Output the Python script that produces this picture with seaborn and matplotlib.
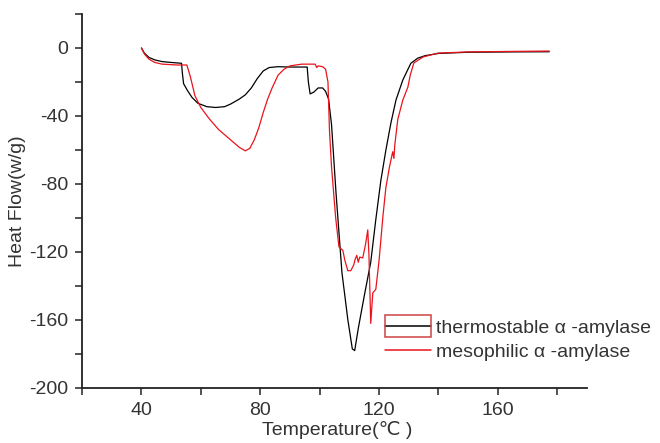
import matplotlib
matplotlib.use("Agg")
import matplotlib.pyplot as plt
from matplotlib.legend_handler import HandlerLine2D
from matplotlib.lines import Line2D
from matplotlib.patches import Rectangle
from matplotlib.ticker import MultipleLocator
import seaborn as sns

# DSC curves
thermo_temp = [40, 41, 42.5, 44.5, 47, 50, 53.5, 53.8, 54.2, 55.5, 57, 59, 62, 65,
               68, 70, 73, 75, 77, 79, 81, 83, 86, 90, 95.8, 96.2, 96.8, 98, 99.5,
               101, 102, 103, 104, 105.5, 107.5, 109.5, 111, 111.8, 113, 115,
               117.2, 118.9, 120.6, 122.3, 124, 125.7, 128, 130.7, 133, 135.5,
               140, 150, 165, 177.3]
thermo_flow = [0, -3, -5.5, -7, -8, -8.5, -9, -15, -21, -25, -29, -32.5, -34.5, -35,
               -34.5, -33, -30, -27.5, -23.5, -18, -13.5, -11.5, -11, -11.2, -11.2,
               -20, -27, -26, -23.5, -23.5, -25.5, -30, -45, -85, -132, -160, -177,
               -178, -165, -146, -126, -101, -78, -60, -44, -30.6, -18.8, -9, -6,
               -4.5, -3.2, -2.5, -2.3, -2.2]

meso_temp = [40, 41, 42.5, 44.5, 47, 52, 55.3, 56.5, 58, 60, 63, 66, 70, 73, 75,
             76.5, 78, 79.5, 81, 82.5, 84, 86, 88, 90, 94, 98.5, 99, 99.5, 101,
             102, 102.8, 103.3, 104, 105.4, 106.5, 107.8, 108.5, 109.5, 110.5,
             111.5, 112, 112.5, 113, 113.5, 114.5, 115.5, 116.2, 116.6, 117.2,
             117.9, 118.9, 120, 121.3, 122.3, 123.5, 124.6, 125, 125.3, 126.3,
             128, 129.7, 130.5, 131.7, 134.8, 139.8, 150, 165, 177.3]
meso_flow = [0, -3.5, -6.5, -8.5, -9.5, -10, -10, -17, -28, -35, -42, -48, -54,
             -58.5, -60.5, -59, -54, -47, -38, -30, -23.5, -16, -12.5, -10.5, -9.5,
             -9.5, -11.5, -10.5, -11, -12.5, -20, -48, -70, -100, -117, -119, -125,
             -131, -131, -127.5, -124, -122, -126, -123, -123.5, -115, -107, -122,
             -162, -144, -142, -125, -99, -82, -70, -61, -65, -57, -42, -30.6, -23,
             -16, -8.8, -5.3, -3, -2.3, -2, -1.8]

labels = ["thermostable α -amylase", "mesophilic α -amylase"]

sns.set_style("ticks")
plt.rcParams["font.family"] = ["Liberation Sans", "DejaVu Sans"]
plt.rcParams["axes.unicode_minus"] = False
text_color = "#333333"


class BoxedLine(HandlerLine2D):
    # legend handle drawn with a thin box round it, as in the original
    def create_artists(self, legend, orig_handle, xdescent, ydescent,
                       width, height, fontsize, trans):
        artists = list(super().create_artists(legend, orig_handle, xdescent, ydescent,
                                              width, height, fontsize, trans))
        box = Rectangle((-xdescent, -ydescent - 0.3 * height), width, 1.6 * height,
                        fill=False, edgecolor="#cc4444", lw=1.1, transform=trans)
        return artists + [box]


fig = plt.figure(figsize=(6.6, 4.43), dpi=100)
ax = fig.add_axes([82 / 660, 1 - 388 / 443, 505 / 660, 374 / 443])

sns.lineplot(x=thermo_temp, y=thermo_flow, color="black", lw=0.9,
             sort=False, estimator=None, ax=ax)
sns.lineplot(x=meso_temp, y=meso_flow, color="#e8141c", lw=0.9,
             sort=False, estimator=None, ax=ax)

ax.set_xlim(20, 190)
ax.set_ylim(-200, 20)
ax.xaxis.set_minor_locator(MultipleLocator(20))
ax.yaxis.set_minor_locator(MultipleLocator(20))
ax.set_xticks([40, 80, 120, 160])
ax.set_yticks([-200, -160, -120, -80, -40, 0])
ax.tick_params(which="both", direction="out", length=5, width=1.1,
               colors="#222222", labelcolor=text_color, labelsize=14, pad=5)
for side in ["top", "right"]:
    ax.spines[side].set_visible(False)
for side in ["left", "bottom"]:
    ax.spines[side].set_linewidth(1.3)
    ax.spines[side].set_color("#222222")

ax.set_xlabel("Temperature(℃ )", fontsize=14, color=text_color)
ax.set_ylabel("Heat Flow(w/g)", fontsize=14, color=text_color)
ax.xaxis.set_label_coords(0.505, -0.088)
ax.yaxis.set_label_coords(-0.11, 0.5)

handles = [Line2D([], [], color="black", lw=1.1),
           Line2D([], [], color="#e8141c", lw=1.1)]
leg = ax.legend(handles, labels, loc="center left",
                bbox_to_anchor=((385 - 82) / 505, (388 - 340) / 374),
                frameon=False, fontsize=14, handlelength=2.35, handletextpad=0.25,
                labelspacing=0.3, borderpad=0, borderaxespad=0,
                handler_map={handles[0]: BoxedLine()})
for t in leg.get_texts():
    t.set_color(text_color)

fig.savefig("out.png", dpi=100)
